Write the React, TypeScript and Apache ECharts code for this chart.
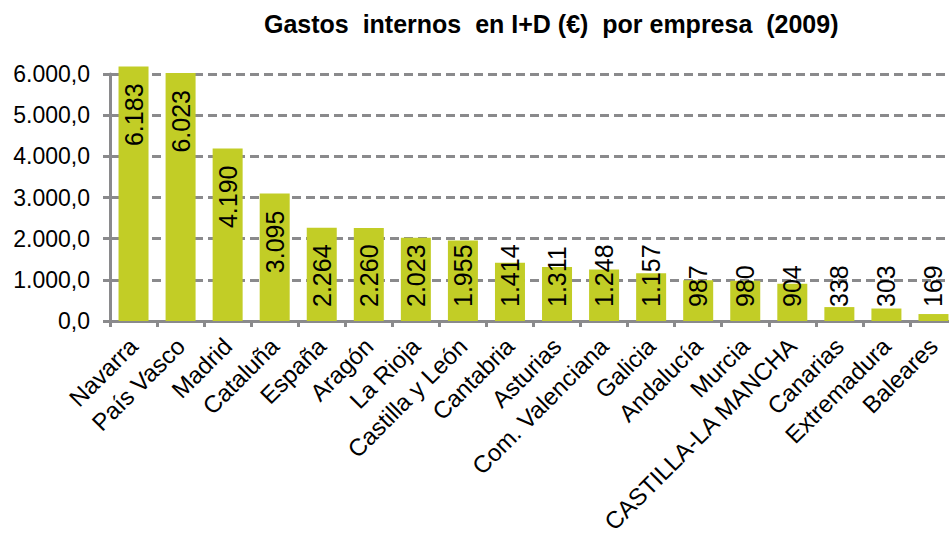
import React, { useEffect, useRef } from "react";
import * as echarts from "echarts";

const TITLE = "Gastos  internos  en I+D (€)  por empresa  (2009)";

const categories = [
  "Navarra",
  "País Vasco",
  "Madrid",
  "Cataluña",
  "España",
  "Aragón",
  "La Rioja",
  "Castilla y León",
  "Cantabria",
  "Asturias",
  "Com. Valenciana",
  "Galicia",
  "Andalucía",
  "Murcia",
  "CASTILLA-LA MANCHA",
  "Canarias",
  "Extremadura",
  "Baleares",
];

const values = [
  6183, 6023, 4190, 3095, 2264, 2260, 2023, 1955, 1414, 1311, 1248, 1157, 987,
  980, 904, 338, 303, 169,
];

const yTicks = [0, 1000, 2000, 3000, 4000, 5000, 6000];

const FONT = "'Liberation Sans', Arial, sans-serif";
const GRAY = "#8a8a8c";
const BAR = "#c2cd26";

function thousands(n: number): string {
  const s = Math.round(Math.abs(n)).toString();
  return s.replace(/\B(?=(\d{3})+(?!\d))/g, ".");
}

export default function App() {
  const ref = useRef<HTMLDivElement>(null);

  useEffect(() => {
    if (!ref.current) return;
    const chart = echarts.init(ref.current, null, { renderer: "svg" });
    const tall = (v: number) => v >= 3000;
    const data = values.map((v) => ({
      value: v,
      label: tall(v)
        ? {
            position: "insideTop",
            distance: 17,
            align: "right",
            verticalAlign: "middle",
          }
        : {
            position: "insideBottom",
            distance: 14,
            align: "left",
            verticalAlign: "middle",
          },
    }));

    chart.setOption({
      animation: false,
      backgroundColor: "#ffffff",
      title: {
        text: TITLE,
        left: 259,
        top: 6,
        textStyle: {
          fontFamily: FONT,
          fontWeight: "bold",
          fontSize: 25,
          color: "#000",
        },
      },
      grid: {
        left: 110,
        top: 74,
        width: 847,
        height: 247,
        containLabel: false,
        outerBoundsMode: "none",
      },
      xAxis: {
        type: "category",
        data: categories,
        boundaryGap: true,
        axisLine: { show: true, lineStyle: { color: GRAY, width: 3 } },
        axisTick: {
          show: true,
          length: 6,
          alignWithLabel: false,
          lineStyle: { color: GRAY, width: 3 },
        },
        axisLabel: {
          interval: 0,
          rotate: 45,
          margin: 21,
          fontFamily: FONT,
          fontSize: 24,
          color: "#000",
        },
      },
      yAxis: {
        type: "value",
        min: yTicks[0],
        max: yTicks[yTicks.length - 1],
        interval: 1000,
        axisLine: { show: true, lineStyle: { color: GRAY, width: 3 } },
        axisTick: { show: true, length: 7, lineStyle: { color: GRAY, width: 3 } },
        axisLabel: {
          margin: 20,
          fontFamily: FONT,
          fontSize: 23,
          color: "#000",
          formatter: (v: number) => thousands(v) + ",0",
        },
        splitLine: {
          show: true,
          lineStyle: { color: GRAY, width: 3, type: [9, 5] },
        },
      },
      series: [
        {
          type: "bar",
          data,
          barWidth: 30,
          clip: false,
          itemStyle: { color: BAR },
          label: {
            show: true,
            rotate: 90,
            fontFamily: FONT,
            fontSize: 25,
            color: "#000",
            formatter: (p: any) => thousands(p.value),
          },
        },
      ],
    });
    return () => chart.dispose();
  }, []);

  return (
    <div
      ref={ref}
      style={{ position: "fixed", left: 0, top: 0, width: 949, height: 533 }}
    />
  );
}
